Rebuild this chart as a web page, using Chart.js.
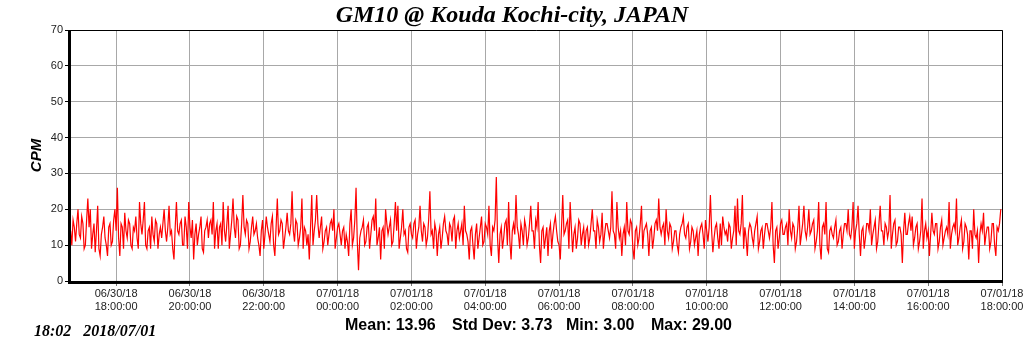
<!DOCTYPE html>
<html><head><meta charset="utf-8">
<script src="https://cdn.jsdelivr.net/npm/chart.js@4/dist/chart.umd.min.js"></script>
<style>
html,body{margin:0;padding:0;background:#fff;}
#wrap{position:relative;width:1024px;height:351px;overflow:hidden;background:#fff;}
canvas{position:absolute;left:0;top:0;}
.t{position:absolute;white-space:pre;color:#000;}
#title{left:0;width:1024px;text-align:center;top:1px;font:italic bold 24px "Liberation Serif","Times New Roman",serif;}
.s{top:316px;font:bold 16px "Liberation Sans",Arial,sans-serif;}
#stamp{left:34px;top:322px;font:italic bold 16px "Liberation Serif","Times New Roman",serif;}
</style></head>
<body>
<div id="wrap">
<canvas id="c" width="1024" height="351"></canvas>
<div class="t" id="title"></div>
<div class="t s" id="s0" style="left:345px"></div>
<div class="t s" id="s1" style="left:452px"></div>
<div class="t s" id="s2" style="left:566px"></div>
<div class="t s" id="s3" style="left:651px"></div>
<div class="t" id="stamp"></div>
</div>
<script>
const chartTitle = "GM10 @ Kouda Kochi-city, JAPAN";
const yAxisLabel = "CPM";
const statLabels = ["Mean: 13.96", "Std Dev: 3.73", "Min: 3.00", "Max: 29.00"];
const stampText = "18:02   2018/07/01";

// time axis in minutes after 06/30/18 16:00
const startMinute = 46;
const stepMinutes = 2;
const xMin = 45;
const xMax = 1560;
const tickMinutes = [120, 240, 360, 480, 600, 720, 840, 960, 1080, 1200, 1320, 1440, 1560];
const tickDates = ["06/30/18","06/30/18","06/30/18","07/01/18","07/01/18","07/01/18","07/01/18","07/01/18","07/01/18","07/01/18","07/01/18","07/01/18","07/01/18"];
const tickTimes = ["18:00:00","20:00:00","22:00:00","00:00:00","02:00:00","04:00:00","06:00:00","08:00:00","10:00:00","12:00:00","14:00:00","16:00:00","18:00:00"];
const yMin = 0, yMax = 70, yStep = 10;

const cpm = [
14,10,17,15,11,16,20,13,12,18,16,9,10,17,23,15,20,9,13,16,
8,14,21,9,7,13,15,18,12,10,7,15,16,10,11,17,20,14,26,12,
7,16,15,9,19,14,12,17,16,10,9,15,14,18,12,9,22,16,13,17,
22,10,9,14,15,9,18,13,11,17,16,9,13,15,12,16,20,14,11,15,
21,13,14,9,6,15,22,14,13,16,17,10,10,18,15,9,22,15,12,17,
6,13,16,10,13,15,18,9,8,14,15,17,12,16,17,13,22,9,14,16,
9,15,16,10,22,14,11,16,21,9,13,17,23,15,12,18,17,9,10,16,
24,15,13,17,16,9,11,15,18,13,14,16,12,10,7,14,17,9,13,18,
15,13,11,16,18,10,7,15,23,13,14,17,16,9,12,15,19,14,13,16,
25,14,11,17,16,10,12,15,23,9,15,14,10,13,6,15,24,10,14,17,
24,16,12,15,18,9,11,14,15,10,13,16,17,14,20,9,12,15,16,13,
10,14,15,9,13,11,7,16,20,10,12,17,26,11,3,12,14,15,17,10,
11,15,16,9,13,17,18,14,23,10,12,15,6,14,15,9,20,16,13,15,
17,10,11,16,22,14,21,9,12,15,20,13,14,9,8,15,16,13,12,16,
17,9,13,15,21,14,11,16,15,10,12,17,25,13,14,9,16,14,7,13,
15,9,12,16,18,14,13,10,16,15,11,17,18,9,14,16,12,14,16,10,
21,14,13,11,6,14,15,10,6,13,16,9,12,15,18,10,11,16,15,13,
21,10,7,15,14,17,29,12,5,13,15,9,12,16,17,10,22,11,6,14,
16,13,24,15,13,9,16,14,10,17,15,10,12,16,21,14,14,9,17,15,
22,10,5,14,15,9,12,15,7,14,16,9,13,16,18,14,11,10,6,15,
24,13,14,16,17,9,22,15,8,13,15,9,12,17,16,10,13,15,9,14,
15,10,12,16,20,14,14,9,17,15,11,13,19,9,13,16,16,14,12,15,
25,14,13,9,22,15,12,14,7,13,15,10,22,14,13,17,16,9,6,14,
15,10,12,16,21,9,14,15,16,13,7,14,15,9,12,16,17,14,23,15,
13,15,16,10,20,14,12,16,15,9,11,14,14,10,8,13,15,16,18,13,
12,15,16,9,11,15,14,10,12,14,7,13,15,16,13,9,17,14,11,15,
24,14,8,12,15,16,12,9,16,10,18,15,13,14,11,16,15,9,12,14,
21,10,23,14,13,16,24,9,15,12,7,14,16,15,12,10,14,16,18,9,
11,14,15,9,13,16,16,14,12,15,22,10,5,14,15,9,12,16,17,13,
13,15,16,10,20,14,12,16,15,9,11,15,21,10,13,16,21,14,12,15,
20,13,14,16,17,9,11,14,22,10,6,15,16,13,22,9,8,14,15,13,
12,15,17,10,11,14,15,9,13,16,16,14,20,13,12,15,22,9,14,16,
21,13,7,14,15,9,12,16,16,14,20,10,13,15,17,9,11,16,21,14,
14,10,16,15,12,14,24,9,13,16,17,10,11,15,15,13,5,14,19,13,
13,16,18,14,18,10,12,15,16,9,11,14,23,9,14,16,12,14,7,13,
19,14,13,16,16,9,11,15,17,10,12,14,15,13,22,9,13,15,16,14,
23,10,12,15,17,9,11,16,15,13,6,14,14,9,20,13,12,14,5,13,
16,14,19,10,13,15,15,9,11,16,16,10,7,15,14,16,20
];

document.getElementById('title').textContent = chartTitle;
statLabels.forEach((t, i) => { document.getElementById('s' + i).textContent = t; });
document.getElementById('stamp').textContent = stampText;

const points = cpm.map((v, i) => ({x: startMinute + i * stepMinutes, y: v}));

const bgPlugin = {
  id: 'bg',
  beforeDraw(chart) {
    const ctx = chart.ctx;
    ctx.save(); ctx.fillStyle = '#fff'; ctx.fillRect(0, 0, chart.width, chart.height); ctx.restore();
  },
  afterDraw(chart) {
    const {ctx, chartArea: a} = chart;
    ctx.save();
    ctx.strokeStyle = '#000';
    ctx.lineWidth = 1;
    ctx.beginPath();
    ctx.moveTo(a.left, a.top + 0.5);
    ctx.lineTo(a.right + 0.5, a.top + 0.5);
    ctx.lineTo(a.right + 0.5, a.bottom);
    ctx.stroke();
    ctx.lineWidth = 3;
    ctx.beginPath();
    ctx.moveTo(a.left - 0.5, a.top);
    ctx.lineTo(a.left - 0.5, a.bottom + 1.5);
    ctx.lineTo(a.right + 1, a.bottom + 0.5);
    ctx.stroke();
    ctx.restore();
  }
};

new Chart(document.getElementById('c'), {
  type: 'line',
  data: {
    datasets: [{
      data: points,
      borderColor: '#ff0000',
      borderWidth: 1.2,
      pointRadius: 0,
      tension: 0,
      fill: false
    }]
  },
  options: {
    responsive: false,
    animation: false,
    devicePixelRatio: 1,
    layout: {padding: {top: 30, right: 22, left: 0, bottom: 0}},
    plugins: {legend: {display: false}, tooltip: {enabled: false}, title: {display: false}},
    scales: {
      x: {
        type: 'linear',
        min: xMin,
        max: xMax,
        afterBuildTicks(s) { s.ticks = tickMinutes.map(v => ({value: v})); },
        afterFit(s) { s.height = 70; s.paddingLeft = 0; s.paddingRight = 0; },
        ticks: {
          autoSkip: false, maxRotation: 0, minRotation: 0, padding: 1,
          color: '#222',
          font: {family: '"Liberation Sans", Arial, sans-serif', size: 11},
          callback(v) { const k = tickMinutes.indexOf(v); return k < 0 ? '' : [tickDates[k], tickTimes[k]]; }
        },
        grid: {color: '#a8a8a8', lineWidth: 1, tickLength: 5, tickColor: '#777'},
        border: {display: false}
      },
      y: {
        min: yMin,
        max: yMax,
        afterFit(s) { s.width = 70; s.paddingTop = 0; s.paddingBottom = 0; },
        ticks: {
          stepSize: yStep, padding: 2, color: '#222',
          font: {family: '"Liberation Sans", Arial, sans-serif', size: 11}
        },
        grid: {color: '#a8a8a8', lineWidth: 1, tickLength: 5, tickColor: '#000'},
        border: {display: false},
        title: {
          display: true, text: yAxisLabel, color: '#000',
          font: {family: '"Liberation Sans", Arial, sans-serif', size: 15, weight: 'bold', style: 'italic'},
          padding: {top: 28, bottom: 0}
        }
      }
    }
  },
  plugins: [bgPlugin]
});
</script>
</body></html>
